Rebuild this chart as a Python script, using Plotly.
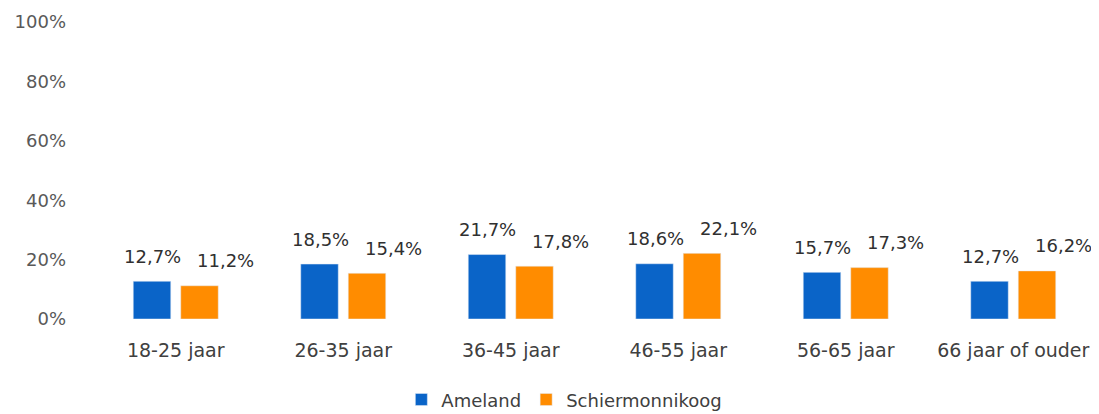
import plotly.graph_objects as go

categories = ["18-25 jaar", "26-35 jaar", "36-45 jaar", "46-55 jaar", "56-65 jaar", "66 jaar of ouder"]
ameland = [12.7, 18.5, 21.7, 18.6, 15.7, 12.7]
schiermonnikoog = [11.2, 15.4, 17.8, 22.1, 17.3, 16.2]
y_ticks = [0, 20, 40, 60, 80, 100]
y_tick_labels = [f"{v}%" for v in y_ticks]

BLUE = "#0A64C8"
ORANGE = "#FF8C00"
FONT = "DejaVu Sans"

fig = go.Figure()
fig.add_trace(go.Bar(name="Ameland", x=categories, y=ameland, marker_color=BLUE))
fig.add_trace(go.Bar(name="Schiermonnikoog", x=categories, y=schiermonnikoog, marker_color=ORANGE))

def fmt(v):
    return f"{v:.1f}%".replace(".", ",")

label_font = dict(family=FONT, size=18, color="#303030")
annotations = []
for cat, a, s in zip(categories, ameland, schiermonnikoog):
    annotations.append(dict(x=cat, y=a, xref="x", yref="y", text=fmt(a), showarrow=False,
                            xshift=-23, yshift=25, yanchor="middle", font=label_font))
    annotations.append(dict(x=cat, y=s, xref="x", yref="y", text=fmt(s), showarrow=False,
                            xshift=50, yshift=25, yanchor="middle", font=label_font))

# page body has an 8px default margin, so the figure is sized/offset to compensate
fig.update_layout(
    width=1091, height=406,
    margin=dict(l=84, r=2, t=14, b=95, autoexpand=False),
    paper_bgcolor="white", plot_bgcolor="white",
    barmode="group", bargap=0.433, bargroupgap=0.21,
    font=dict(family=FONT, color="#404040"),
    annotations=annotations,
    showlegend=True,
    legend=dict(orientation="h", x=0.47, xanchor="center",
                y=-0.272, yanchor="middle",
                font=dict(family=FONT, size=18, color="#404040"),
                itemwidth=30, traceorder="normal"),
)
fig.update_xaxes(showgrid=False, showline=False, ticks="", ticklabelstandoff=18, automargin=False,
                 tickfont=dict(family=FONT, size=19, color="#404040"))
fig.update_yaxes(range=[0, 100], tickmode="array", tickvals=y_ticks, ticktext=y_tick_labels,
                 showgrid=False, zeroline=False, showline=False, ticks="", ticklabelstandoff=25,
                 automargin=False, tickfont=dict(family=FONT, size=18, color="#595959"))

fig.write_html("out.html")
